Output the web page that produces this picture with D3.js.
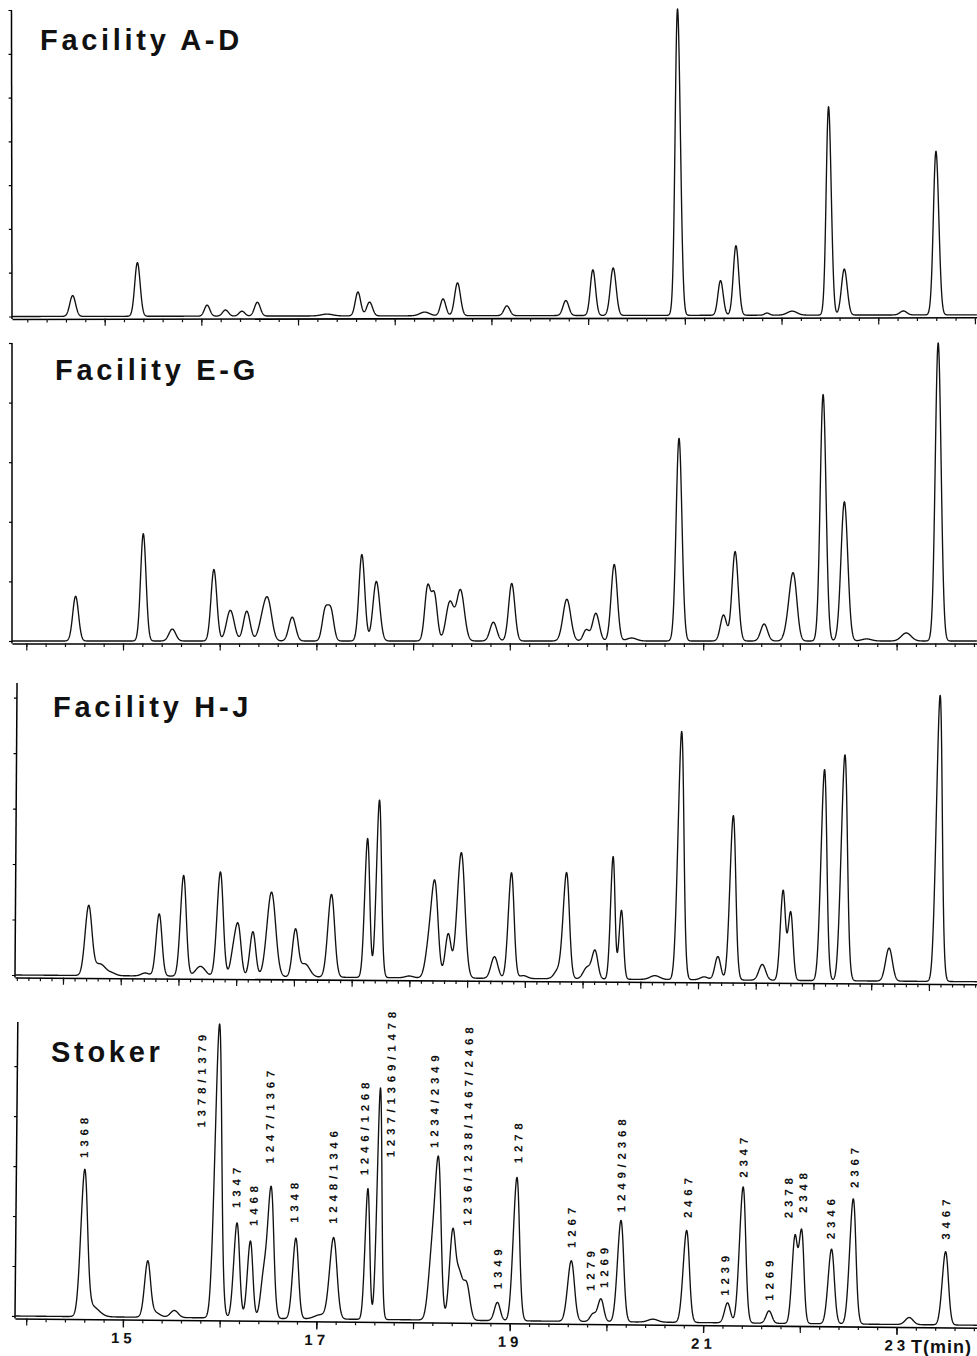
<!DOCTYPE html>
<html>
<head>
<meta charset="utf-8">
<script src="https://cdn.jsdelivr.net/npm/d3@7"></script>
<style>
  body { margin: 0; background: #fff; }
  svg { display: block; }
</style>
</head>
<body>
<svg id="chart"></svg>
<script>
// Peak tables:
// retention time (min), height (% of full scale), peak sigma (min)
const panelNames = ["Facility A-D", "Facility E-G", "Facility H-J", "Stoker"];

const adTimes = [14.48, 15.15, 15.87, 16.06, 16.23, 16.39, 17.11, 17.43, 17.55, 18.12, 18.31, 18.46, 18.97,
  19.58, 19.86, 20.07, 20.74, 21.18, 21.34, 21.66, 21.92, 22.30, 22.46, 23.07, 23.41];
const adHeights = [6.8, 17.5, 3.6, 2.0, 1.6, 4.5, 0.6, 7.8, 4.5, 1.2, 5.5, 10.7, 3.2,
  4.9, 14.9, 15.5, 100, 11.3, 22.7, 0.7, 1.3, 68, 15, 1.3, 53.4];
const adWidths = [0.03, 0.028, 0.028, 0.03, 0.03, 0.03, 0.06, 0.028, 0.03, 0.05, 0.028, 0.03, 0.03,
  0.03, 0.027, 0.03, 0.027, 0.027, 0.028, 0.025, 0.05, 0.026, 0.03, 0.035, 0.028];

const egTimes = [14.51, 15.21, 15.51, 15.94, 16.11, 16.28, 16.44, 16.50, 16.75, 17.09, 17.15, 17.47, 17.62,
  18.15, 18.22, 18.38, 18.49, 18.83, 19.02, 19.59, 19.79, 19.89, 20.08, 20.26, 20.75, 21.21, 21.33,
  21.63, 21.90, 21.94, 22.24, 22.46, 22.69, 23.10, 23.43];
const egHeights = [15, 36, 4, 24, 10.3, 10, 6, 12.5, 8, 10, 10, 29, 20,
  17.9, 15.3, 13, 17, 6.3, 19.3, 14, 3.7, 9.3, 25.7, 1, 68, 8.7, 30,
  5.7, 10, 16, 82.7, 46.7, 0.7, 2.7, 100];
const egWidths = [0.03, 0.028, 0.035, 0.03, 0.04, 0.035, 0.04, 0.04, 0.035, 0.03, 0.03, 0.03, 0.035,
  0.03, 0.03, 0.04, 0.04, 0.035, 0.032, 0.04, 0.03, 0.035, 0.032, 0.05, 0.03, 0.032, 0.032,
  0.035, 0.04, 0.035, 0.03, 0.035, 0.05, 0.05, 0.03];

const hjTimes = [14.64, 14.76, 14.89, 15.23, 15.37, 15.62, 15.80, 16.00, 16.14, 16.19, 16.34, 16.53, 16.78,
  16.88, 17.15, 17.52, 17.64, 17.96, 18.16, 18.22, 18.36, 18.49, 18.84, 19.01, 19.14, 19.50, 19.58,
  19.80, 19.88, 20.06, 20.15, 20.50, 20.76, 21.01, 21.15, 21.30, 21.61, 21.82, 21.90, 22.24, 22.45,
  22.92, 23.43];
const hjHeights = [23.5, 4, 0.7, 1, 21.3, 34.5, 3.4, 35.8, 8, 16, 15.4, 29, 15.9,
  4.5, 28.4, 47.6, 60.8, 0.6, 10, 31, 15, 43, 7.4, 36.2, 1, 3, 36,
  4, 9.4, 42, 23.6, 1.3, 85, 1, 8, 56.3, 5.4, 30.7, 23.3, 72.3, 77.4,
  11.3, 98];
const hjWidths = [0.035, 0.06, 0.04, 0.04, 0.03, 0.03, 0.05, 0.032, 0.03, 0.03, 0.03, 0.045, 0.03,
  0.05, 0.035, 0.026, 0.026, 0.04, 0.035, 0.035, 0.03, 0.04, 0.035, 0.03, 0.04, 0.04, 0.032,
  0.04, 0.03, 0.023, 0.023, 0.05, 0.03, 0.04, 0.03, 0.03, 0.035, 0.026, 0.026, 0.03, 0.032,
  0.035, 0.03];

const stTimes = [14.59, 14.68, 15.25, 15.31, 15.53, 15.97, 16.17, 16.31, 16.45, 16.52, 16.78, 17.04, 17.17,
  17.52, 17.64, 18.19, 18.25, 18.40, 18.47, 18.55, 18.87, 19.06, 19.63, 19.86, 19.94, 20.14, 20.48,
  20.82, 21.25, 21.40, 21.68, 21.94, 22.01, 22.32, 22.54, 23.13, 23.50];
const stHeights = [48.6, 3.5, 18, 2, 2.4, 100, 32.4, 26.3, 14, 44, 27.4, 1.4, 27.6,
  44.5, 78.8, 22, 50, 29, 15, 12, 6.2, 48.8, 20.6, 2.6, 7.7, 34.5, 1,
  31.3, 6.8, 46.3, 4.2, 29, 31, 25.4, 42.6, 2.4, 24.9];
const stWidths = [0.034, 0.07, 0.03, 0.06, 0.04, 0.034, 0.03, 0.028, 0.03, 0.032, 0.03, 0.06, 0.038,
  0.024, 0.024, 0.035, 0.032, 0.03, 0.035, 0.035, 0.03, 0.032, 0.035, 0.03, 0.03, 0.032, 0.05,
  0.032, 0.03, 0.032, 0.03, 0.027, 0.027, 0.032, 0.032, 0.04, 0.032];

// congener labels on the Stoker trace: text, retention time, level (% of scale) where the label starts
const stLabelText = ["1368", "1378/1379", "1347", "1468", "1247/1367", "1348", "1248/1346", "1246/1268",
  "1237/1369/1478", "1234/2349", "1236/1238/1467/2468", "1349", "1278", "1267", "1279", "1269",
  "1249/2368", "2467", "1239", "2347", "1269", "2378", "2348", "2346", "2367", "3467"];
const stLabelTimes = [14.58, 15.79, 16.16, 16.34, 16.50, 16.76, 17.16, 17.48, 17.75, 18.20, 18.55, 18.87,
  19.07, 19.63, 19.83, 19.97, 20.14, 20.83, 21.22, 21.40, 21.68, 21.87, 22.02, 22.31, 22.55, 23.50];
const stLabelLevels = [54, 64.7, 37.5, 31.4, 52.7, 32.6, 32.4, 49, 55.2, 58.5, 32.2, 10.7,
  53.6, 25, 10.4, 11.5, 37.3, 35.5, 9.2, 49.4, 7.7, 35.8, 37.6, 28.8, 46.3, 29];

const xTickLabels = [15, 17, 19, 21, 23];
const xTitle = "T(min)";

// page layout
const W = 977, H = 1356;
const font = "'Liberation Sans', Arial, Helvetica, sans-serif";

const layout = [
  { x0: 12, base: 316.5, top: 10, tilt: -0.1, yStep: 100 / 7, tickStart: 13.81, tickStep: 1, title: [40, 50] },
  { x0: 12, base: 641, top: 343, tilt: 0, yStep: 20, tickStart: 14, tickStep: 1, title: [55, 380] },
  { x0: 15, base: 975, top: 683, tilt: 0.4, yStep: 19, tickStart: 14.38, tickStep: 0.597, title: [53, 717] },
  { x0: 15, base: 1316, top: 1022, tilt: 0.55, yStep: 17, tickStart: 14, tickStep: 1, title: [51, 1062] }
];

const traces = [
  [adTimes, adHeights, adWidths],
  [egTimes, egHeights, egWidths],
  [hjTimes, hjHeights, hjWidths],
  [stTimes, stHeights, stWidths]
];

const svg = d3.select("#chart").attr("width", W).attr("height", H);

// shared retention-time scale (same for every run)
const x = d3.scaleLinear().domain([15, 23]).range([123, 896.6]);

function chromatogram(times, heights, widths, t0, t1) {
  return d3.range(t0, t1, 0.002).map((t) => [
    t,
    d3.sum(times, (c, k) => heights[k] * Math.exp(-((t - c) * (t - c)) / (2 * widths[k] * widths[k])))
  ]);
}

layout.forEach((L, i) => {
  const g = svg.append("g").attr("transform", `rotate(${L.tilt},${L.x0},${L.base})`);
  const y = d3.scaleLinear().domain([0, 100]).range([L.base, L.top]);
  const axisY = L.base + 2.5;

  // axis scale covering the drawn width
  const t0 = x.invert(L.x0), t1 = x.invert(W);
  const xa = d3.scaleLinear().domain([t0, t1]).range([L.x0, W]);

  const majors = d3.range(L.tickStart - L.tickStep, t1, L.tickStep).filter((t) => t >= t0 && t <= t1);
  const minors = d3.range(L.tickStart - L.tickStep, t1, L.tickStep / 5).filter((t) => t >= t0 && t <= t1);

  // minor ticks + axis line
  g.append("g")
    .attr("transform", `translate(0,${axisY})`)
    .call(d3.axisBottom(xa).tickValues(minors).tickSize(3.5).tickSizeOuter(0).tickFormat(""))
    .call((a) => a.select(".domain").attr("stroke-width", 1.6));

  // major ticks
  g.append("g")
    .attr("transform", `translate(0,${axisY})`)
    .call(d3.axisBottom(xa).tickValues(majors).tickSize(7).tickSizeOuter(0).tickFormat(""))
    .call((a) => a.select(".domain").remove());

  g.selectAll(".tick line").attr("stroke", "#111").attr("stroke-width", 1.2);

  // left intensity axis
  const yTicks = d3.range(0, 100.01, L.yStep);
  g.append("g")
    .attr("transform", `translate(${L.x0},0)`)
    .call(d3.axisLeft(y).tickValues(yTicks).tickSize(3).tickSizeOuter(0).tickFormat(""))
    .call((a) => a.select(".domain").attr("d", `M0,${axisY}V${L.top}`).attr("stroke-width", 1.5))
    .call((a) => a.selectAll(".tick line").attr("stroke-width", 1.2));

  // the trace
  const [tt, hh, ww] = traces[i];
  const pts = chromatogram(tt, hh, ww, t0, t1);
  g.append("path")
    .datum(pts)
    .attr("fill", "none")
    .attr("stroke", "#111")
    .attr("stroke-width", 1.35)
    .attr("stroke-linejoin", "round")
    .attr("d", d3.line().x((d) => x(d[0])).y((d) => y(d[1])));

  // last panel: labelled time axis and congener labels
  if (i === 3) {
    g.append("g")
      .attr("transform", `translate(0,${axisY})`)
      .call(d3.axisBottom(xa).tickValues(xTickLabels).tickSize(8).tickPadding(5).tickFormat((d) => d))
      .call((a) => a.select(".domain").remove())
      .call((a) => a.selectAll(".tick line").attr("stroke", "#111").attr("stroke-width", 1.3))
      .call((a) => a.selectAll(".tick text")
        .attr("fill", "#111")
        .style("font-family", font)
        .style("font-weight", "bold")
        .style("font-size", "15px")
        .style("letter-spacing", "4px"));

    g.append("g")
      .selectAll("text")
      .data(stLabelText)
      .join("text")
      .attr("transform", (d, k) => `translate(${x(stLabelTimes[k])},${y(stLabelLevels[k])}) rotate(-90)`)
      .attr("dy", "0.36em")
      .attr("text-anchor", "start")
      .attr("fill", "#111")
      .style("font-family", font)
      .style("font-weight", "bold")
      .style("font-size", "11.5px")
      .style("letter-spacing", "4.8px")
      .text((d) => d);
  }

  // panel title
  svg.append("text")
    .attr("x", L.title[0])
    .attr("y", L.title[1])
    .attr("fill", "#111")
    .style("font-family", font)
    .style("font-weight", "bold")
    .style("font-size", "29px")
    .style("letter-spacing", "3.7px")
    .text(panelNames[i]);
});

svg.append("text")
  .attr("x", 911)
  .attr("y", 1353)
  .attr("fill", "#111")
  .style("font-family", font)
  .style("font-weight", "bold")
  .style("font-size", "18px")
  .style("letter-spacing", "1px")
  .text(xTitle);
</script>
</body>
</html>
